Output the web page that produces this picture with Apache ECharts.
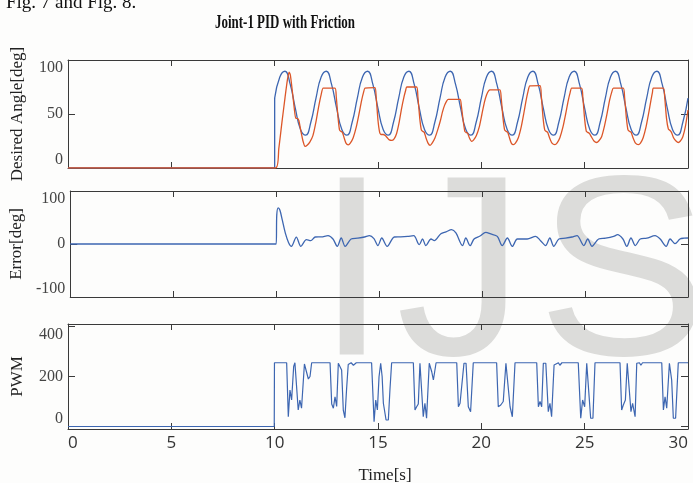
<!DOCTYPE html>
<html>
<head>
<meta charset="utf-8">
<script src="https://cdn.jsdelivr.net/npm/echarts@6/dist/echarts.min.js"></script>
<style>
html,body{margin:0;padding:0;background:#fdfdfc;}
#chart{width:693px;height:483px;}
</style>
</head>
<body>
<div id="chart"></div>
<script>
// ---------- data ----------
var titleText = 'Joint-1 PID with Friction';
var xTicks = [0, 5, 10, 15, 20, 25, 30];

// desired angle: rest segment and active segment
var restTime  = [0, 10, 10];
var restAngle = [0, 0, 64.7];

var desiredTime = [10,10.25,10.5,10.75,11,11.25,11.5,11.75,12,12.25,12.5,12.75,13,13.25,13.5,13.75,14,14.25,14.5,14.75,15,15.25,15.5,15.75,16,16.25,16.5,16.75,17,17.25,17.5,17.75,18,18.25,18.5,18.75,19,19.25,19.5,19.75,20,20.25,20.5,20.75,21,21.25,21.5,21.75,22,22.25,22.5,22.75,23,23.25,23.5,23.75,24,24.25,24.5,24.75,25,25.25,25.5,25.75,26,26.25,26.5,26.75,27,27.25,27.5,27.75,28,28.25,28.5,28.75,29,29.25,29.5,29.75,30];
var desiredAngle = [64.7,84.3,89.6,77.6,55.3,35.7,30.4,42.4, 64.7,84.3,89.6,77.6,55.3,35.7,30.4,42.4, 64.7,84.3,89.6,77.6,55.3,35.7,30.4,42.4, 64.7,84.3,89.6,77.6,55.3,35.7,30.4,42.4, 64.7,84.3,89.6,77.6,55.3,35.7,30.4,42.4, 64.7,84.3,89.6,77.6,55.3,35.7,30.4,42.4, 64.7,84.3,89.6,77.6,55.3,35.7,30.4,42.4, 64.7,84.3,89.6,77.6,55.3,35.7,30.4,42.4, 64.7,84.3,89.6,77.6,55.3,35.7,30.4,42.4, 64.7,84.3,89.6,77.6,55.3,35.7,30.4,42.4, 64.7];

// actual angle
var actualTime = [0,10.05,10.2,10.35,10.5,10.62,10.7,10.76,10.85,10.95,11.02,11.1,11.17,11.27,11.37,11.47,11.57,11.7,11.85,12.0,12.12,12.25,12.35,
 12.92,12.98,13.07,13.14,13.2,13.28,13.36,13.45,13.56,13.66,13.8,13.95,14.08,14.2,14.3,14.37,
 14.85,14.91,15.0,15.08,15.15,15.25,15.35,15.45,15.55,15.66,15.78,15.9,16.02,16.14,16.26,16.34,16.39,
 16.87,16.93,17.02,17.1,17.16,17.24,17.32,17.42,17.52,17.62,17.76,17.9,18.02,18.12,18.22,18.32,18.4,
 18.97,19.03,19.12,19.2,19.26,19.34,19.42,19.53,19.63,19.76,19.9,20.03,20.15,20.26,20.35,20.42,
 20.9,20.96,21.05,21.13,21.2,21.28,21.36,21.45,21.55,21.65,21.79,21.93,22.05,22.16,22.26,22.35,
 22.84,22.9,22.99,23.07,23.13,23.21,23.3,23.42,23.56,23.66,23.8,23.95,24.08,24.2,24.3,24.37,
 24.85,24.91,25.0,25.08,25.15,25.23,25.32,25.45,25.58,25.68,25.82,25.96,26.09,26.21,26.32,26.39,
 26.87,26.93,27.02,27.1,27.17,27.25,27.34,27.46,27.6,27.7,27.83,27.97,28.09,28.2,28.28,28.32,
 28.81,28.87,28.96,29.05,29.12,29.2,29.3,29.42,29.53,29.63,29.75,29.87,30.0];
var actualAngle = [0,0,18,42,65,82,88.8,86,72,55,46,46,44,34,25,20,21,24,30,43,56,68,74,
 74,66,46,35,34,33,28,23,21.5,23,28,38,50,62,70,74,
 74.5,66,44,33,31,31,30,28,26,25.5,27,32,42,55,66,72,75,
 75,66,46,35,34,33,28,23,21,23,28,36,44,52,58,62,63.6,
 63.6,58,44,34,33,32,28,24.7,26,30,38,50,61,68,71.5,72.4,
 72.4,65,46,35,34,33,28,23,21.6,23,28,38,50,62,71,76,
 76.2,67,46,35,34,33,28,23,21.6,23,28,38,50,62,70,74,
 74,66,45,34,33,32,29,25,23.6,25,29,39,51,63,71,74,
 74,66,46,35,34,33,28,23,21.6,23,28,38,50,62,70,74,
 74,66,46,36,35,33,28,25,23.6,25,29,38,53.7];

// tracking error
var errorTime = [0,10.0,10.03,10.1,10.18,10.3,10.45,10.6,10.74,10.98,11.2,11.47,11.68,11.9,12.2,12.52,12.76,12.97,13.16,13.35,13.64,13.95,14.29,14.53,14.75,14.94,15.13,15.39,15.74,16.05,16.39,16.68,16.95,17.11,17.27,17.52,17.68,18.0,18.25,18.52,18.73,19.05,19.21,19.42,19.61,19.9,20.18,20.42,20.74,20.98,21.23,21.47,21.71,22.0,22.19,22.6,22.84,23.08,23.29,23.48,23.73,24.05,24.37,24.61,24.94,25.13,25.34,25.66,26.0,26.39,26.58,26.84,27.03,27.23,27.44,27.68,28.0,28.4,28.65,28.94,29.13,29.37,29.61,29.8,30.0];
var errorValue = [0,0,55,68,64,45,20,3,-4.4,13,-4.4,8.2,6.3,13.2,13.5,15.7,9.4,-4.4,11.3,-4.4,9.4,11,13.2,15.7,10,-3,11.3,-4.4,13.2,13.5,14.4,15.7,-1.2,9.4,-3,9.4,6.3,19.5,23,27,20.8,-3,11.3,-3,9.4,15,22,18.9,14.4,-3,11.3,-4.4,9.4,9.4,9.4,14.4,6.3,-3,11.3,-4.4,9.4,11,13.2,15.7,-3,9.4,-4.4,9.4,11,14.4,17.6,9.4,-4.4,11.3,-3,9.4,11,15.7,9.4,-4.4,9.4,0.6,9.4,11,11.3];

// PWM command
var pwmTime = [0,9.98,9.99,10.58,10.66,10.74,10.82,10.92,10.98,11.06,11.14,11.22,11.3,11.44,11.63,11.71,11.79,12.68,12.76,12.84,12.92,13.0,13.08,13.16,13.24,13.32,13.4,13.48,13.56,13.7,13.81,13.95,
 14.69,14.81,14.89,14.97,15.05,15.13,15.2,15.26,15.39,15.5,15.58,15.66,16.71,16.79,16.87,16.95,17.03,17.11,17.19,17.27,17.35,17.48,17.6,17.68,17.81,
 18.81,18.89,18.97,19.05,19.16,19.26,19.37,19.48,19.61,20.74,20.82,20.94,21.06,21.19,21.27,21.39,21.5,21.63,
 22.68,22.76,22.84,22.92,23.0,23.12,23.24,23.32,23.4,23.52,23.73,23.8,23.9,24.69,24.81,24.9,25.0,25.1,25.18,25.29,25.4,25.5,
 26.71,26.79,26.87,26.97,27.06,27.14,27.24,27.32,27.44,27.52,27.65,27.72,27.8,28.73,28.81,28.89,28.97,29.1,29.21,29.29,29.4,29.53,30];
var pwmValue = [0,0,255,255,39,146,106,240,255,255,66,106,73,250,190,200,255,255,90,73,119,80,253,253,226,66,35,150,248,255,245,255,
 255,19,106,66,199,253,200,93,26,26,150,255,255,66,79,90,253,248,39,93,33,253,219,186,255,
 255,79,93,86,253,253,79,59,255,255,79,86,100,253,253,79,39,255,
 255,79,100,79,253,253,59,93,39,246,255,245,255,255,33,106,79,253,253,33,33,255,
 255,66,86,106,253,246,59,93,39,253,255,245,255,255,66,119,73,253,186,33,33,255,255];

function pairs(ts, vs) { return ts.map(function (t, i) { return [t, vs[i]]; }); }

// ---------- layout ----------
var BLUE = '#3d66b1', RED = '#dc5628', AX = '#3a3a3a';
var grids = [
  {left: 68, width: 620, top: 60, height: 108},
  {left: 68, width: 620, top: 191, height: 106},
  {left: 68, width: 620, top: 324, height: 105}
];
var yCfg = [
  {min: 0, max: 100, vals: [0, 50, 100], name: 'Desired Angle[deg]'},
  {min: -100, max: 100, vals: [-100, 0, 100], name: 'Error[deg]'},
  {min: -10, max: 410, vals: [0, 200, 400], name: 'PWM'}
];

var xAxes = [], yAxes = [];
grids.forEach(function (g, i) {
  ['bottom', 'top'].forEach(function (pos) {
    xAxes.push({
      gridIndex: i, type: 'value', position: pos, min: 0, max: 30, interval: 5,
      axisLine: {show: true, onZero: false, lineStyle: {color: AX, width: 1}},
      axisTick: {show: true, inside: true, length: 6, lineStyle: {color: AX}},
      splitLine: {show: false},
      axisLabel: {
        show: (i === 2 && pos === 'bottom'), margin: 6, color: '#333',
        fontFamily: 'Open Sans', fontSize: 17,
        alignMinLabel: 'left', alignMaxLabel: 'right'
      }
    });
  });
  var c = yCfg[i];
  ['left', 'right'].forEach(function (pos) {
    yAxes.push({
      gridIndex: i, type: 'value', position: pos, min: c.min, max: c.max,
      name: pos === 'left' ? c.name : '',
      nameLocation: 'middle', nameRotate: 90, nameGap: 42,
      nameTextStyle: {fontFamily: 'Liberation Serif', fontSize: 17, color: '#222'},
      axisLine: {show: true, onZero: false, lineStyle: {color: AX, width: 1}},
      axisTick: {show: true, inside: true, length: 7, lineStyle: {color: AX}, customValues: c.vals},
      splitLine: {show: false},
      axisLabel: {
        show: pos === 'left', margin: 5, color: '#444',
        fontFamily: 'Liberation Serif', fontSize: 16,
        customValues: c.vals,
        verticalAlignMinLabel: 'bottom', verticalAlignMaxLabel: 'top'
      }
    });
  });
});

var lineBase = {type: 'line', showSymbol: false, symbol: 'none', animation: false};

function wm(ch, x) {
  return {type: 'text', z: -10, x: x, y: 155,
    style: {text: ch, fontFamily: 'Liberation Sans', fontSize: 257, fill: '#dcdcda',
            textAlign: 'left', textVerticalAlign: 'top', align: 'left', verticalAlign: 'top'}};
}

var option = {
  backgroundColor: '#fdfdfc',
  animation: false,
  grid: grids,
  xAxis: xAxes,
  yAxis: yAxes,
  graphic: [
    wm('I', 316), wm('J', 396), wm('S', 537),
    {type: 'text', x: 6, y: 2.6,
     style: {text: 'Fig. 7 and Fig. 8.', fontFamily: 'Liberation Serif', fontSize: 19, fill: '#111',
             textAlign: 'left', textVerticalAlign: 'middle', align: 'left', verticalAlign: 'middle'}},
    {type: 'text', x: 285, y: 23, scaleX: 0.72,
     style: {text: titleText, fontFamily: 'Liberation Serif', fontSize: 18, fontWeight: 'bold', fill: '#111',
             textAlign: 'center', textVerticalAlign: 'middle', align: 'center', verticalAlign: 'middle'}},
    {type: 'text', x: 385, y: 476,
     style: {text: 'Time[s]', fontFamily: 'Liberation Serif', fontSize: 17, fill: '#222',
             textAlign: 'center', textVerticalAlign: 'middle', align: 'center', verticalAlign: 'middle'}}
  ],
  series: [
    Object.assign({}, lineBase, {name: 'rest', xAxisIndex: 0, yAxisIndex: 0, data: pairs(restTime, restAngle),
      lineStyle: {color: BLUE, width: 1.3}, itemStyle: {color: BLUE}}),
    Object.assign({}, lineBase, {name: 'desired', xAxisIndex: 0, yAxisIndex: 0, smooth: true, data: pairs(desiredTime, desiredAngle),
      lineStyle: {color: BLUE, width: 1.3}, itemStyle: {color: BLUE}}),
    Object.assign({}, lineBase, {name: 'actual', xAxisIndex: 0, yAxisIndex: 0, smooth: 0.2, data: pairs(actualTime, actualAngle),
      lineStyle: {color: RED, width: 1.3}, itemStyle: {color: RED}}),
    Object.assign({}, lineBase, {name: 'error', xAxisIndex: 2, yAxisIndex: 2, smooth: 0.3, data: pairs(errorTime, errorValue),
      lineStyle: {color: BLUE, width: 1.3}, itemStyle: {color: BLUE}}),
    Object.assign({}, lineBase, {name: 'pwm', xAxisIndex: 4, yAxisIndex: 4, data: pairs(pwmTime, pwmValue),
      lineStyle: {color: BLUE, width: 1.2}, itemStyle: {color: BLUE}})
  ]
};

var chart = echarts.init(document.getElementById('chart'), null, {renderer: 'canvas'});
chart.setOption(option);
</script>
</body>
</html>
